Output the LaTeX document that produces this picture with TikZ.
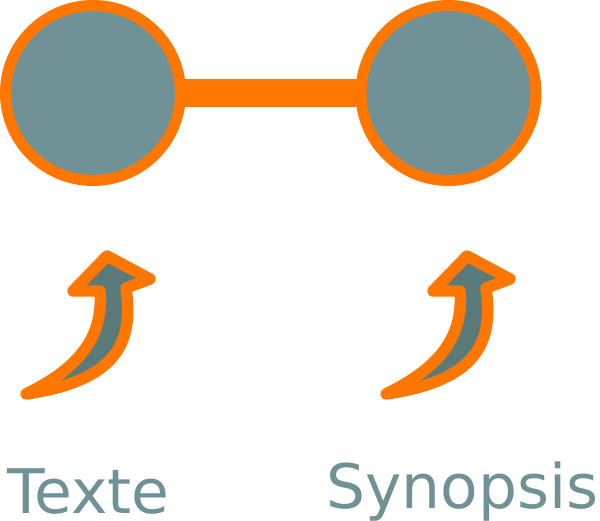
\documentclass[tikz,border=0pt]{standalone}
\usepackage{fontspec}
\setmainfont{DejaVu Sans}
\usetikzlibrary{positioning}
\definecolor{orangeA}{HTML}{FF7700}
\definecolor{greyA}{HTML}{709296}
\definecolor{greyB}{HTML}{5B7B7A}
\tikzset{
  ball/.style={circle, draw=orangeA, fill=greyA, line width=0.22cm, minimum size=3.5cm, inner sep=0pt, outer sep=0pt},
  bar/.style={draw=orangeA, line width=0.58cm},
  uparrow/.style={draw=orangeA, fill=greyB, line width=0.23cm, line join=round},
  label/.style={text=greyA, font=\fontsize{35}{42}\selectfont, inner sep=0pt, text depth=0pt, anchor=base west}
}
\begin{document}
\begin{tikzpicture}[x=0.02cm, y=-0.02cm]
        \useasboundingbox (0,0) rectangle (600,521);

        % Liaison entre les deux cercles
        \coordinate (cA) at (93,93);
        \coordinate (cB) at (448.5,93);
        \draw[bar] (cA) -- (cB);

        % Cercles
        \node[ball] (texte) at (cA) {};
        \node[ball] (synopsis) at (cB) {};

        % Fleches courbes
        \foreach \dx in {0,360} {
            \draw[uparrow, shift={(\dx,0)}] (107,256) -- (150,279) -- (126,288)
                .. controls (133,338) and (122,380) .. (26,394)
                .. controls (75,370) and (104,340) .. (100,291)
                -- (73,291) -- cycle;
        }

        % Etiquettes
        \node[label] (lblTexte) at (7,513) {Texte};
        \node[label] (lblSynopsis) at (326,508) {Synopsis};
    \end{tikzpicture}
\end{document}
